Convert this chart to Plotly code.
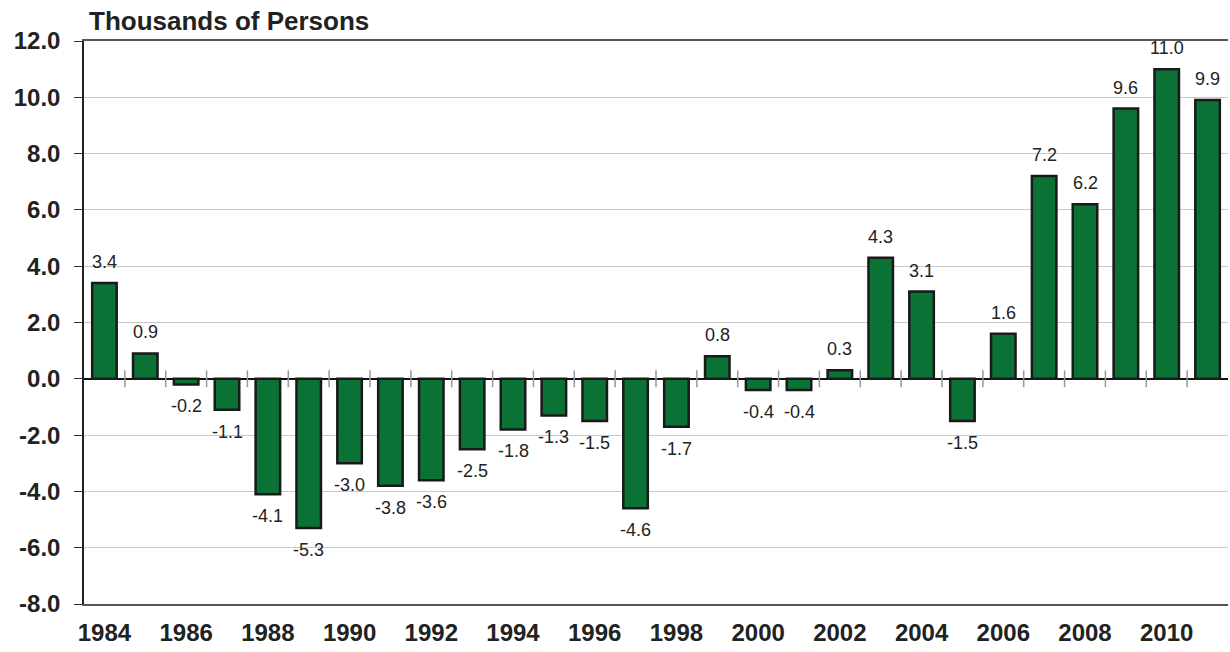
import plotly.graph_objects as go

# data
years = list(range(1984, 2012))
values = [3.4, 0.9, -0.2, -1.1, -4.1, -5.3, -3.0, -3.8, -3.6, -2.5, -1.8, -1.3, -1.5, -4.6,
          -1.7, 0.8, -0.4, -0.4, 0.3, 4.3, 3.1, -1.5, 1.6, 7.2, 6.2, 9.6, 11.0, 9.9]
y_ticks = [-8, -6, -4, -2, 0, 2, 4, 6, 8, 10, 12]
x_ticks = list(range(1984, 2012, 2))

FONT = "Arial, Liberation Sans, sans-serif"

fig = go.Figure()
fig.add_trace(go.Bar(
    x=years, y=values,
    marker=dict(color="#0b7236", line=dict(color="#1a1a1a", width=2.5)),
    width=0.6,
    hoverinfo="x+y",
))

# value labels above / below each bar
for yr, v in zip(years, values):
    fig.add_annotation(
        x=yr, y=v, text=f"{v:.1f}", showarrow=False,
        yanchor="bottom" if v >= 0 else "top",
        yshift=9 if v >= 0 else -10,
        font=dict(family=FONT, size=18, color="#222"),
    )

# little tick marks crossing the zero line between the categories
for yr in years[:-1]:
    fig.add_shape(type="line", xref="x", yref="y",
                  x0=yr + 0.5, x1=yr + 0.5, y0=-0.3, y1=0.3,
                  line=dict(color="#999", width=1.5))

fig.add_annotation(
    xref="paper", yref="paper", x=0.003, y=1.0, yshift=3,
    xanchor="left", yanchor="bottom", showarrow=False,
    text="<b>Thousands of Persons</b>",
    font=dict(family=FONT, size=26, color="#222"),
)

fig.update_layout(
    width=1230, height=652,
    margin=dict(l=84, r=2, t=41, b=48),
    plot_bgcolor="white", paper_bgcolor="white",
    showlegend=False,
    font=dict(family=FONT, color="#222"),
)
fig.update_xaxes(
    range=[1983.5, 2011.5],
    tickvals=x_ticks, ticktext=[f"<b>{t}</b>" for t in x_ticks],
    tickfont=dict(family=FONT, size=24, color="#222"),
    ticks="", showgrid=False,
    showline=True, mirror=True, linecolor="#555", linewidth=1.5,
    ticklabelstandoff=6,
)
fig.update_yaxes(
    range=[-8, 12],
    tickvals=y_ticks, ticktext=[f"<b>{t:.1f}</b>" for t in y_ticks],
    tickfont=dict(family=FONT, size=24, color="#222"),
    ticks="outside", ticklen=8, tickcolor="#333",
    showgrid=True, gridcolor="#c8c8c8", gridwidth=1,
    showline=True, linecolor="#222", linewidth=1.5,
    zeroline=True, zerolinecolor="#111", zerolinewidth=1.5,
    ticklabelstandoff=9,
)

# drop the page's default body margin so the figure sits at the window corner
fig.write_html("out.html", config={"displayModeBar": False},
               post_script="document.body.style.margin='0px';")
